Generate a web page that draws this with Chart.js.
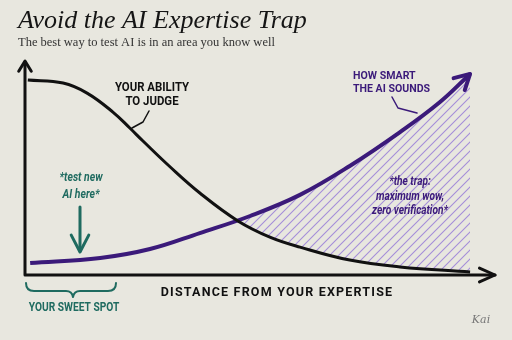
<!DOCTYPE html>
<html>
<head>
<meta charset="utf-8">
<script src="https://cdn.jsdelivr.net/npm/chart.js@4.4.1/dist/chart.umd.min.js"></script>
<style>
  html, body { margin: 0; padding: 0; background: #e8e7df; }
  #wrap { width: 512px; height: 340px; }
</style>
</head>
<body>
<div id="wrap"><canvas id="trapChart" width="512" height="340"></canvas></div>
<script>
// distance from expertise (0-100) and level (0-100)
const judgeX = [0.6, 8.1, 13.2, 18.7, 22.3, 25.1, 30.9, 37.2, 45.3, 52.1, 58.5, 69.1, 79.8, 94.7];
const judgeY = [91.5, 90.1, 85.4, 76.5, 69, 62.9, 50.7, 38.5, 25.4, 17.8, 13.1, 7, 3.8, 1.4];
const smartX = [1.1, 16, 26.6, 37.2, 47.9, 58.5, 69.1, 79.8, 88.3, 94.7];
const smartY = [5.6, 8, 12.2, 19.7, 27.7, 37.6, 51.2, 67.1, 81.2, 94.4];
const seriesNames = ["YOUR ABILITY TO JUDGE", "HOW SMART THE AI SOUNDS"];

const ink = "#111111";
const purple = "#3b1a7a";
const teal = "#1f6b60";
const sans = "Roboto, 'DejaVu Sans', sans-serif";

function hatchPattern() {
  const s = 9;
  const c = document.createElement("canvas");
  c.width = s; c.height = s;
  const g = c.getContext("2d");
  g.strokeStyle = "#a58ed9";
  g.lineWidth = 1.1;
  g.beginPath();
  g.moveTo(0, s); g.lineTo(s, 0);
  g.moveTo(-1, 1); g.lineTo(1, -1);
  g.moveTo(s - 1, s + 1); g.lineTo(s + 1, s - 1);
  g.stroke();
  return document.getElementById("trapChart").getContext("2d").createPattern(c, "repeat");
}

function arrowHead(ctx, tx, ty, angle, len, spread) {
  ctx.beginPath();
  ctx.moveTo(tx - len * Math.cos(angle - spread), ty - len * Math.sin(angle - spread));
  ctx.lineTo(tx, ty);
  ctx.lineTo(tx - len * Math.cos(angle + spread), ty - len * Math.sin(angle + spread));
  ctx.stroke();
}

// narrow lettering like the hand-drawn labels
function narrow(ctx, arr, x, y, gap, sx) {
  arr.forEach((t, i) => {
    ctx.save();
    ctx.translate(x, y + i * gap);
    ctx.scale(sx, 1);
    ctx.fillText(t, 0, 0);
    ctx.restore();
  });
}

const sketchPlugin = {
  id: "sketch",
  beforeDraw(chart) {
    const ctx = chart.ctx;
    ctx.save();
    ctx.fillStyle = "#e8e7df";
    ctx.fillRect(0, 0, chart.width, chart.height);
    ctx.restore();
  },
  afterDatasetsDraw(chart) {
    const ctx = chart.ctx;
    const a = chart.chartArea;
    ctx.save();
    ctx.lineCap = "round";
    ctx.lineJoin = "round";

    // axes
    ctx.strokeStyle = ink;
    ctx.lineWidth = 3;
    ctx.beginPath();
    ctx.moveTo(a.left, a.top);
    ctx.lineTo(a.left, a.bottom);
    ctx.lineTo(a.right, a.bottom);
    ctx.stroke();
    arrowHead(ctx, a.left, a.top - 1, -Math.PI / 2, 12, 0.55);
    arrowHead(ctx, a.right, a.bottom, 0, 17, 0.42);

    // purple arrow tip
    const pts = chart.getDatasetMeta(1).data;
    const p1 = pts[pts.length - 2], p2 = pts[pts.length - 1];
    ctx.strokeStyle = purple;
    ctx.lineWidth = 4;
    arrowHead(ctx, p2.x, p2.y, Math.atan2(p2.y - p1.y, p2.x - p1.x), 17, 0.5);

    // leader lines
    ctx.lineWidth = 1.5;
    ctx.strokeStyle = ink;
    ctx.beginPath();
    ctx.moveTo(149, 111); ctx.lineTo(143, 122); ctx.lineTo(132, 128);
    ctx.stroke();
    ctx.strokeStyle = purple;
    ctx.beginPath();
    ctx.moveTo(392, 97); ctx.lineTo(398, 108); ctx.lineTo(417, 113);
    ctx.stroke();

    // test-here arrow
    ctx.strokeStyle = teal;
    ctx.lineWidth = 3;
    ctx.beginPath();
    ctx.moveTo(80, 207); ctx.lineTo(80, 251);
    ctx.stroke();
    arrowHead(ctx, 80, 252, Math.PI / 2, 19, 0.48);

    // sweet spot brace
    ctx.lineWidth = 2;
    ctx.beginPath();
    ctx.moveTo(26, 283);
    ctx.quadraticCurveTo(26, 291, 34, 291);
    ctx.lineTo(66, 291);
    ctx.quadraticCurveTo(72, 291, 73, 297);
    ctx.quadraticCurveTo(74, 291, 80, 291);
    ctx.lineTo(108, 291);
    ctx.quadraticCurveTo(116, 291, 116, 283);
    ctx.stroke();

    // text
    ctx.textBaseline = "middle";
    ctx.fillStyle = "#151515";
    ctx.textAlign = "left";
    ctx.font = "italic 26px 'Liberation Serif', serif";
    ctx.fillText("Avoid the AI Expertise Trap", 18, 21);
    ctx.fillStyle = "#333333";
    ctx.font = "12.5px 'Liberation Serif', serif";
    ctx.fillText("The best way to test AI is in an area you know well", 18, 43);

    ctx.textAlign = "center";
    ctx.fillStyle = ink;
    ctx.font = "bold 12px " + sans;
    narrow(ctx, ["YOUR ABILITY", "TO JUDGE"], 152, 88, 14, 0.95);

    ctx.textAlign = "left";
    ctx.fillStyle = purple;
    ctx.font = "bold 11.5px " + sans;
    narrow(ctx, ["HOW SMART", "THE AI SOUNDS"], 353, 76, 13, 0.92);

    ctx.textAlign = "center";
    ctx.fillStyle = teal;
    ctx.font = "italic bold 13px " + sans;
    narrow(ctx, ["*test new", "AI here*"], 81, 178, 17, 0.8);

    ctx.fillStyle = purple;
    narrow(ctx, ["*the trap:", "maximum wow,", "zero verification*"], 410, 182, 14.5, 0.78);

    ctx.fillStyle = teal;
    ctx.font = "bold 12px " + sans;
    narrow(ctx, ["YOUR SWEET SPOT"], 74, 308, 0, 0.85);

    ctx.fillStyle = ink;
    ctx.font = "bold 12.5px " + sans;
    if ("letterSpacing" in ctx) ctx.letterSpacing = "1.2px";
    ctx.fillText("DISTANCE FROM YOUR EXPERTISE", 277, 293);
    if ("letterSpacing" in ctx) ctx.letterSpacing = "0px";

    ctx.fillStyle = "#777777";
    ctx.font = "italic 11px 'DejaVu Serif', serif";
    ctx.fillText("Kai", 481, 320);
    ctx.restore();
  }
};

new Chart(document.getElementById("trapChart"), {
  type: "line",
  data: {
    datasets: [{
      label: seriesNames[0],
      data: judgeX.map((x, i) => ({ x: x, y: judgeY[i] })),
      borderColor: ink,
      borderWidth: 3,
      pointRadius: 0,
      tension: 0.4,
      fill: false,
      clip: 10
    }, {
      label: seriesNames[1],
      data: smartX.map((x, i) => ({ x: x, y: smartY[i] })),
      borderColor: purple,
      borderWidth: 4,
      pointRadius: 0,
      tension: 0.4,
      fill: { target: 0, above: hatchPattern(), below: "rgba(0,0,0,0)" },
      clip: 10
    }]
  },
  options: {
    responsive: false,
    animation: false,
    events: [],
    layout: { padding: { left: 25, right: 17, top: 62, bottom: 65 } },
    scales: {
      x: { type: "linear", min: 0, max: 100, display: false },
      y: { min: 0, max: 100, display: false }
    },
    plugins: {
      legend: { display: false },
      tooltip: { enabled: false }
    }
  },
  plugins: [sketchPlugin]
});
</script>
</body>
</html>
